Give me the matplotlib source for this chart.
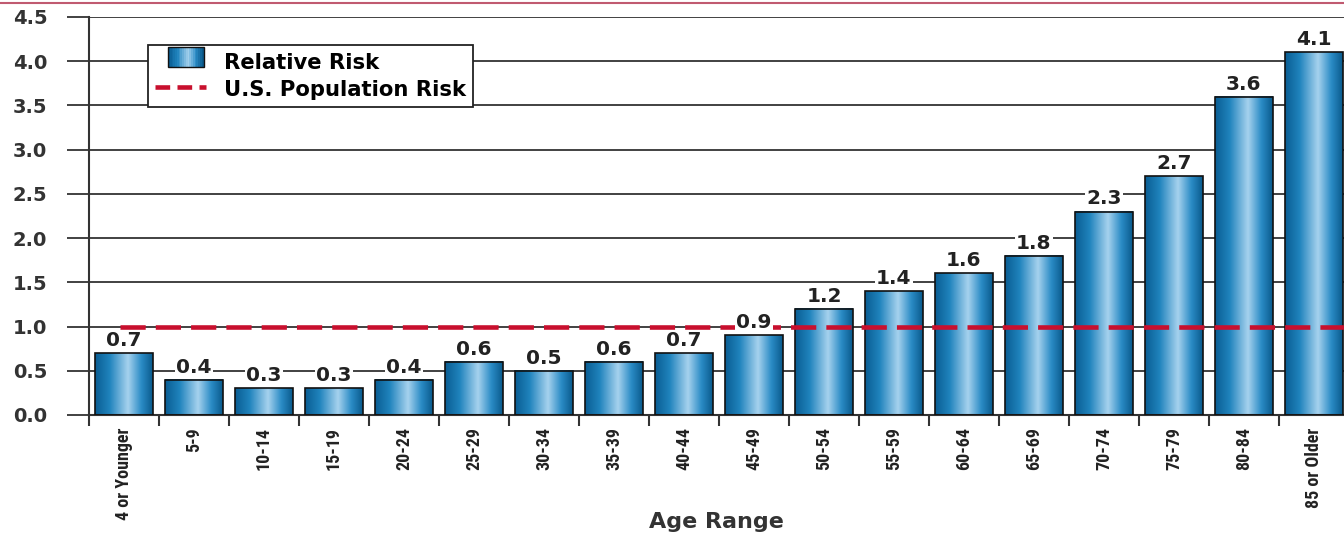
import numpy as np
import matplotlib
matplotlib.use('Agg')
import matplotlib.pyplot as plt
from matplotlib.colors import LinearSegmentedColormap
from matplotlib.patches import Rectangle
from matplotlib.legend_handler import HandlerBase
from matplotlib.lines import Line2D
from matplotlib import font_manager

age_ranges = ['4 or Younger', '5-9', '10-14', '15-19', '20-24', '25-29', '30-34',
              '35-39', '40-44', '45-49', '50-54', '55-59', '60-64', '65-69',
              '70-74', '75-79', '80-84', '85 or Older']
relative_risk = [0.7, 0.4, 0.3, 0.3, 0.4, 0.6, 0.5, 0.6, 0.7, 0.9,
                 1.2, 1.4, 1.6, 1.8, 2.3, 2.7, 3.6, 4.1]
us_population_risk = 1.0
y_ticks = [0.0, 0.5, 1.0, 1.5, 2.0, 2.5, 3.0, 3.5, 4.0, 4.5]

# narrow face for the rotated age labels, if one is around
installed = {f.name for f in font_manager.fontManager.ttflist}
narrow = next((n for n in ['Roboto Condensed', 'Liberation Sans Narrow',
                           'Open Sans Condensed', 'Archivo Narrow']
               if n in installed), None)
if narrow:
    tick_font = dict(family=narrow, fontsize=13)
else:
    tick_font = dict(family='Liberation Sans', fontsize=11)

# cylinder-like shading across each bar
bar_cmap = LinearSegmentedColormap.from_list('tube', [
    (0.0, '#0a5d92'), (0.25, '#1f83bd'), (0.57, '#a6d2ee'),
    (0.8, '#2b8cc6'), (1.0, '#0a5a8c')])
grad = np.linspace(0, 1, 256).reshape(1, -1)


class GradientHandler(HandlerBase):
    def create_artists(self, legend, orig, xd, yd, w, h, fontsize, trans):
        x0, w0 = xd + 0.25 * w, 0.7 * w
        n = 20
        arts = []
        for i in range(n):
            r = Rectangle((x0 + w0 * i / n, yd), w0 / n + 0.3, h,
                          facecolor=bar_cmap(i / (n - 1)), edgecolor='none',
                          transform=trans)
            arts.append(r)
        arts.append(Rectangle((x0, yd), w0, h, facecolor='none',
                              edgecolor='#111111', lw=1.0, transform=trans))
        return arts


fig = plt.figure(figsize=(13.44, 5.35), dpi=100)
ax = fig.add_axes([89 / 1344, 120 / 535, 1255 / 1344, 398 / 535])

x = np.arange(len(age_ranges))
width = 0.82
for xi, v in zip(x, relative_risk):
    ax.imshow(grad, extent=[xi - width / 2, xi + width / 2, 0, v],
              aspect='auto', cmap=bar_cmap, zorder=2, interpolation='bilinear')
bars = ax.bar(x, relative_risk, width=width, facecolor='none',
              edgecolor='#111111', linewidth=1.2, zorder=3)

ax.hlines(us_population_risk, -0.05, len(age_ranges), colors='#c8102e',
          linewidth=3.3, linestyles=(0, (5.5, 2.2)), zorder=4)

for xi, v in zip(x, relative_risk):
    ax.text(xi, v + 0.035, f'{v:.1f}', ha='center', va='bottom',
            fontsize=14.5, fontweight='bold', color='#222222', zorder=5,
            bbox=dict(facecolor='white', edgecolor='none', pad=1.0))

ax.set_xlim(-0.5, 17.43)
ax.set_ylim(0, 4.5)
ax.set_yticks(y_ticks)
ax.set_yticklabels([f'{t:.1f}' for t in y_ticks], fontsize=14,
                   fontweight='bold', color='#333333')
ax.yaxis.grid(True, color='#333333', linewidth=1.3, zorder=0)
ax.set_axisbelow(True)
ax.tick_params(axis='y', length=16, width=1.3, color='#333333', pad=14)

ax.set_xticks(x - 0.5, minor=True)
ax.set_xticks(x)
ax.set_xticklabels(age_ranges, rotation=90, fontweight='bold',
                   color='#222222', **tick_font)
ax.tick_params(axis='x', which='major', length=0, pad=9)
ax.tick_params(axis='x', which='minor', length=8, width=1.5, color='#333333')

for s in ['top', 'right']:
    ax.spines[s].set_visible(False)
ax.spines['left'].set_linewidth(1.5)
ax.spines['left'].set_color('#333333')
ax.spines['bottom'].set_linewidth(1.5)
ax.spines['bottom'].set_color('#333333')

fig.text(716 / 1344, 1 - 522 / 535, 'Age Range', ha='center', va='center',
         fontsize=16, fontweight='bold', color='#333333')

handles = [Rectangle((0, 0), 1, 1),
           Line2D([0], [0], color='#c8102e', lw=3.3, linestyle=(0, (3.2, 1.6)))]
leg = ax.legend(handles, ['Relative Risk', 'U.S. Population Risk'],
                handler_map={Rectangle: GradientHandler()},
                loc='upper left', bbox_to_anchor=(0.047, 0.93),
                borderaxespad=0, fancybox=False, framealpha=1,
                edgecolor='#222222', prop=dict(weight='bold', size=15.2),
                handlelength=2.4, handleheight=1.05, handletextpad=0.85,
                borderpad=0.35, labelspacing=0.25)
leg.get_frame().set_linewidth(1.3)
leg.set_zorder(6)

# thin rule along the top edge
fig.add_artist(Line2D([0, 1], [1 - 3 / 535] * 2, color='#c05a70', lw=1.5,
                      transform=fig.transFigure))

fig.savefig('out.png', dpi=100)
